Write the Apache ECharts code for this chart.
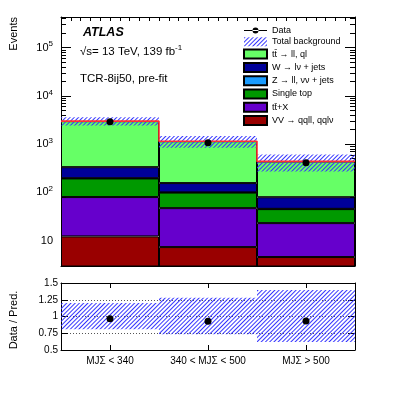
<!DOCTYPE html>
<html>
<head>
<meta charset="utf-8">
<script src="https://cdn.jsdelivr.net/npm/echarts@6/dist/echarts.min.js"></script>
<style>html,body{margin:0;padding:0;background:#fff;}#c{width:407px;height:395px;}</style>
</head>
<body>
<div id="c"></div>
<script>
// ---- data ----
var categories = ['MJ\u03A3 < 340', '340 < MJ\u03A3 < 500', 'MJ\u03A3 > 500'];
var vvQQ   = [12.3, 7.4, 4.6];     // VV -> qqll, qqlv
var ttX    = [68, 40, 18.6];       // tt+X
var singleTop = [115, 52, 22];     // Single top
var zJets  = [2, 1, 0.6];          // Z -> ll, vv + jets
var wJets  = [137, 56, 34];        // W -> lv + jets
var ttbar  = [2666, 997, 360];     // tt -> ll, ql
var dataObs = [2900, 1070, 410];   // Data
var relUncDown = [0.81, 0.735, 0.62];
var relUncUp   = [1.2, 1.28, 1.395];
var yMainTicks = [10, 100, 1000, 10000, 100000];
var yMainMinor = [];
[1, 10, 100, 1000, 10000, 100000].forEach(function (d) {
  for (var k = 2; k <= 9; k++) { if (d * k >= 3 && d * k <= 430000) yMainMinor.push(d * k); }
});

// ---- derived ----
var total = categories.map(function (_, i) {
  return vvQQ[i] + ttX[i] + singleTop[i] + zJets[i] + wJets[i] + ttbar[i];
});
var bandBase = total.map(function (t, i) { return t * relUncDown[i]; });
var bandSpan = total.map(function (t, i) { return t * (relUncUp[i] - relUncDown[i]); });
var ratio = dataObs.map(function (d, i) { return d / total[i]; });
var ratioBase = relUncDown.slice();
var ratioSpan = relUncUp.map(function (u, i) { return u - relUncDown[i]; });
var stepData = total.map(function (t, i) { return [i, t]; });
stepData.push([total.length, total[total.length - 1]]);

var FONT = '"Liberation Sans", Arial, Helvetica, sans-serif';
var hatch = {
  symbol: 'rect', symbolSize: 1, color: '#3535ff',
  dashArrayX: [1, 0], dashArrayY: [0.9, 1.95], rotation: -Math.PI / 4
};

var names = {
  tt: 'tt\u0304 \u2192 ll, ql',
  w: 'W \u2192 l\u03BD + jets',
  z: 'Z \u2192 ll, \u03BD\u03BD + jets',
  st: 'Single top',
  ttx: 'tt\u0304+X',
  vv: 'VV \u2192 qqll, qql\u03BD'
};

function stackBar(name, data, color) {
  return {
    type: 'bar', name: name, data: data, stack: 'bkg',
    xAxisIndex: 0, yAxisIndex: 0, barWidth: '100%', barGap: '-100%',
    itemStyle: { color: color, borderColor: '#000', borderWidth: 1 },
    emphasis: { disabled: true }, animation: false
  };
}

var chart = echarts.init(document.getElementById('c'), null, { renderer: 'canvas' });
var logAxisBase = { type: 'log', logBase: 10, min: 3, max: 430000, gridIndex: 0,
  splitLine: { show: false }, axisLabel: { show: false } };

var option = {
  animation: false,
  textStyle: { fontFamily: FONT },
  grid: [
    { left: 61, top: 17, width: 294, height: 249 },
    { left: 61, top: 283, width: 294, height: 67 }
  ],
  xAxis: [
    { type: 'category', gridIndex: 0, data: categories, show: false },
    { type: 'value', gridIndex: 0, min: 0, max: 3, interval: 0.1, position: 'bottom',
      axisLine: { show: true, lineStyle: { color: '#000', width: 1 } },
      axisTick: { show: true, inside: true, length: 4, lineStyle: { color: '#000' } },
      axisLabel: { show: false }, splitLine: { show: false } },
    { type: 'value', gridIndex: 0, min: 0, max: 3, interval: 0.1, position: 'top',
      axisLine: { show: true, lineStyle: { color: '#000', width: 1 } },
      axisTick: { show: true, inside: true, length: 4, lineStyle: { color: '#000' } },
      axisLabel: { show: false }, splitLine: { show: false } },
    { type: 'category', gridIndex: 1, data: categories, position: 'bottom',
      axisLine: { show: true, lineStyle: { color: '#000', width: 1 } },
      axisTick: { show: true, inside: true, alignWithLabel: true, interval: 0, length: 5, lineStyle: { color: '#000' } },
      axisLabel: { color: '#000', fontSize: 10, margin: 6, interval: 0, hideOverlap: false }, splitLine: { show: false } },
    { type: 'category', gridIndex: 1, data: categories, position: 'top',
      axisLine: { show: true, lineStyle: { color: '#000', width: 1 } },
      axisTick: { show: true, inside: true, alignWithLabel: true, interval: 0, length: 5, lineStyle: { color: '#000' } },
      axisLabel: { show: false }, splitLine: { show: false } }
  ],
  yAxis: [
    Object.assign({}, logAxisBase, { position: 'left',
      axisLine: { show: true, lineStyle: { color: '#000', width: 1 } },
      axisTick: { show: true, inside: true, length: 10, customValues: yMainTicks, lineStyle: { color: '#000' } },
      axisLabel: { show: true, customValues: yMainTicks, margin: 8, color: '#000',
        formatter: function (v) {
          var e = Math.round(Math.log10(v));
          return e === 1 ? '{b|10}' : '{b|10}{s|' + e + '}';
        },
        rich: { b: { fontSize: 11, color: '#000', fontFamily: FONT },
                s: { fontSize: 8, color: '#000', fontFamily: FONT, padding: [0, 0, 7, 0] } } } }),
    Object.assign({}, logAxisBase, { position: 'left',
      axisLine: { show: false },
      axisTick: { show: true, inside: true, length: 5, customValues: yMainMinor, lineStyle: { color: '#000' } } }),
    Object.assign({}, logAxisBase, { position: 'right',
      axisLine: { show: true, lineStyle: { color: '#000', width: 1 } },
      axisTick: { show: true, inside: true, length: 10, customValues: yMainTicks, lineStyle: { color: '#000' } } }),
    Object.assign({}, logAxisBase, { position: 'right',
      axisLine: { show: false },
      axisTick: { show: true, inside: true, length: 5, customValues: yMainMinor, lineStyle: { color: '#000' } } }),
    { type: 'value', gridIndex: 1, min: 0.5, max: 1.5, interval: 0.25, position: 'left',
      axisLine: { show: true, lineStyle: { color: '#000', width: 1 } },
      axisTick: { show: true, inside: true, length: 7, lineStyle: { color: '#000' } },
      axisLabel: { color: '#000', fontSize: 10, margin: 3 },
      splitLine: { show: true, lineStyle: { color: '#555', type: [1, 2], width: 1 } } },
    { type: 'value', gridIndex: 1, min: 0.5, max: 1.5, interval: 0.25, position: 'right',
      axisLine: { show: true, lineStyle: { color: '#000', width: 1 } },
      axisTick: { show: true, inside: true, length: 7, lineStyle: { color: '#000' } },
      axisLabel: { show: false }, splitLine: { show: false } }
  ],
  legend: {
    orient: 'vertical', left: 238, top: 21, itemWidth: 23, itemHeight: 9, itemGap: 2.3,
    icon: 'rect', selectedMode: false,
    textStyle: { fontSize: 9, color: '#000', fontFamily: FONT, padding: [0, 0, 0, 0] },
    data: [
      { name: 'Data', icon: 'path://M0,0L0.01,0L0,0.01Z M23,9L22.99,9L23,8.99Z M0,4L23,4L23,5L0,5Z M8.5,4.5A3,3,0,1,0,14.5,4.5A3,3,0,1,0,8.5,4.5Z' },
      'Total background', names.tt, names.w, names.z, names.st, names.ttx, names.vv
    ]
  },
  series: [
    stackBar(names.vv, vvQQ, '#990000'),
    stackBar(names.ttx, ttX, '#6600cc'),
    stackBar(names.st, singleTop, '#009900'),
    stackBar(names.z, zJets, '#1a9cff'),
    stackBar(names.w, wJets, '#000099'),
    stackBar(names.tt, ttbar, '#66ff66'),
    { type: 'bar', name: 'bandBase', data: bandBase, stack: 'unc', xAxisIndex: 0, yAxisIndex: 0,
      barWidth: '100%', barGap: '-100%', itemStyle: { color: 'rgba(0,0,0,0)' }, silent: true },
    { type: 'bar', name: 'Total background', data: bandSpan, stack: 'unc', xAxisIndex: 0, yAxisIndex: 0,
      barWidth: '100%', barGap: '-100%', itemStyle: { color: 'rgba(255,255,255,0)', decal: hatch }, silent: true },
    { type: 'line', name: 'totalLine', data: stepData, step: 'end', xAxisIndex: 1, yAxisIndex: 0, z: 4,
      symbol: 'none', lineStyle: { color: '#ff3030', width: 1.6 }, silent: true },
    { type: 'scatter', name: 'Data', data: dataObs, xAxisIndex: 0, yAxisIndex: 0, z: 5,
      symbol: 'circle', symbolSize: 7, itemStyle: { color: '#000', opacity: 1 }, silent: true },
    { type: 'bar', name: 'rBase', data: ratioBase, stack: 'runc', xAxisIndex: 3, yAxisIndex: 4,
      barWidth: '100%', itemStyle: { color: 'rgba(0,0,0,0)' }, silent: true },
    { type: 'bar', name: 'rBand', data: ratioSpan, stack: 'runc', xAxisIndex: 3, yAxisIndex: 4,
      barWidth: '100%', itemStyle: { color: 'rgba(255,255,255,0)', decal: hatch }, silent: true },
    { type: 'scatter', name: 'rData', data: ratio, xAxisIndex: 3, yAxisIndex: 4, z: 5,
      symbol: 'circle', symbolSize: 7, itemStyle: { color: '#000', opacity: 1 }, silent: true }
  ],
  graphic: [
    { type: 'text', left: 83, top: 26, style: { text: 'ATLAS', fontSize: 12.5, fontWeight: 'bold', fontStyle: 'italic', fill: '#000', fontFamily: FONT } },
    { type: 'text', left: 80, top: 44, style: { text: '\u221As= 13 TeV, 139 fb{s|-1}', fontSize: 11.5, fill: '#000', fontFamily: FONT,
        rich: { s: { fontSize: 8, fill: '#000', fontFamily: FONT, padding: [0, 0, 8, 0] } } } },
    { type: 'text', left: 80, top: 73, style: { text: 'TCR-8ij50, pre-fit', fontSize: 11.5, fill: '#000', fontFamily: FONT } },
    { type: 'text', x: 14, y: 17, rotation: Math.PI / 2, style: { text: 'Events', fontSize: 11, fill: '#000', fontFamily: FONT, align: 'right', verticalAlign: 'middle' } },
    { type: 'text', x: 14, y: 320, rotation: Math.PI / 2, style: { text: 'Data / Pred.', fontSize: 11, fill: '#000', fontFamily: FONT, align: 'center', verticalAlign: 'middle' } }
  ]
};
chart.setOption(option);
</script>
</body>
</html>
